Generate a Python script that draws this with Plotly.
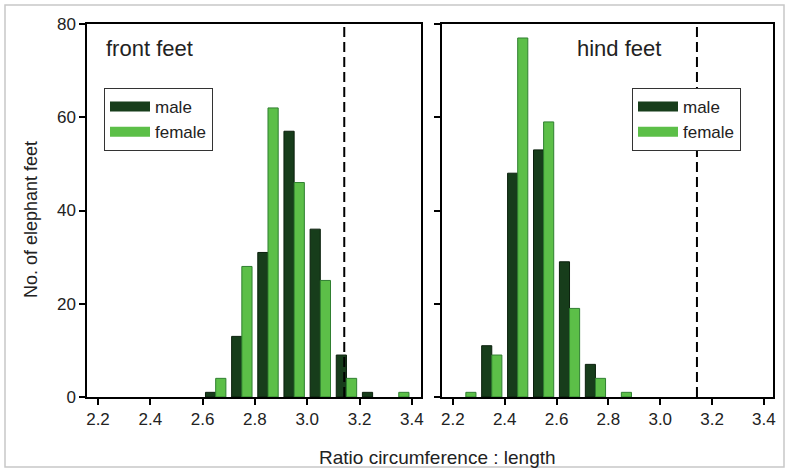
import plotly.graph_objects as go
import math

# ---- data ----
front_bins = [2.6, 2.7, 2.8, 2.9, 3.0, 3.1, 3.2, 3.3]
front_male = [1, 13, 31, 57, 36, 9, 1, 0]
front_female = [4, 28, 62, 46, 25, 4, 0, 1]

hind_bins = [2.2, 2.3, 2.4, 2.5, 2.6, 2.7, 2.8]
hind_male = [0, 11, 48, 53, 29, 7, 0]
hind_female = [1, 9, 77, 59, 19, 4, 1]

x_ticks = [2.2, 2.4, 2.6, 2.8, 3.0, 3.2, 3.4]
y_ticks = [0, 20, 40, 60, 80]
bin_width = 0.1
ref_line = math.pi

MALE = "#173d1b"
MALE_EDGE = "#0b200d"
FEMALE = "#5cbf48"
FEMALE_EDGE = "#2f7f30"
FONT = "Liberation Sans, Arial, sans-serif"
TXT = "#222222"

fc = [b + bin_width / 2 for b in front_bins]
hc = [b + bin_width / 2 for b in hind_bins]


def edge_widths(vals):
    return [1 if v > 0 else 0 for v in vals]


fig = go.Figure()
fig.add_trace(go.Bar(x=fc, y=front_male,
                     marker=dict(color=MALE, line=dict(color=MALE_EDGE, width=edge_widths(front_male))),
                     offsetgroup="m", xaxis="x", yaxis="y", showlegend=False, name="male"))
fig.add_trace(go.Bar(x=fc, y=front_female,
                     marker=dict(color=FEMALE, line=dict(color=FEMALE_EDGE, width=edge_widths(front_female))),
                     offsetgroup="f", xaxis="x", yaxis="y", showlegend=False, name="female"))
fig.add_trace(go.Bar(x=hc, y=hind_male,
                     marker=dict(color=MALE, line=dict(color=MALE_EDGE, width=edge_widths(hind_male))),
                     offsetgroup="m", xaxis="x2", yaxis="y2", showlegend=False, name="male"))
fig.add_trace(go.Bar(x=hc, y=hind_female,
                     marker=dict(color=FEMALE, line=dict(color=FEMALE_EDGE, width=edge_widths(hind_female))),
                     offsetgroup="f", xaxis="x2", yaxis="y2", showlegend=False, name="female"))

# legend entries (thick line swatches)
for lg, xa, ya in [("legend", "x", "y"), ("legend2", "x2", "y2")]:
    fig.add_trace(go.Scatter(x=[None], y=[None], mode="lines", name="male",
                             line=dict(color=MALE, width=10), legend=lg, xaxis=xa, yaxis=ya))
    fig.add_trace(go.Scatter(x=[None], y=[None], mode="lines", name="female",
                             line=dict(color=FEMALE, width=10), legend=lg, xaxis=xa, yaxis=ya))

xr = [2.158, 3.435]
common_x = dict(range=xr, tickvals=x_ticks, ticktext=[f"{v:.1f}" for v in x_ticks],
                showline=True, mirror=True, linecolor="black", linewidth=1.5,
                ticks="outside", ticklen=6, tickwidth=1.5, tickcolor="black",
                showgrid=False, zeroline=False,
                tickfont=dict(family=FONT, size=17, color=TXT))
common_y = dict(range=[0, 80], tickvals=y_ticks,
                showline=True, mirror=True, linecolor="black", linewidth=1.5,
                ticks="outside", ticklen=6, tickwidth=1.5, tickcolor="black",
                showgrid=False, zeroline=False,
                tickfont=dict(family=FONT, size=17, color=TXT))

W, H = 789, 472
L, R, T, B = 87, 16, 24, 75
pw = W - L - R
ph = H - T - B


def px(xpix):
    return (xpix - L) / pw


def py(ypix):
    return (H - B - ypix) / ph


legend_common = dict(bgcolor="white", bordercolor="#333333", borderwidth=1,
                     font=dict(family=FONT, size=17, color=TXT),
                     xanchor="left", yanchor="top", tracegroupgap=0, itemwidth=40)

fig.update_layout(
    width=W, height=H,
    margin=dict(l=L, r=R, t=T, b=B),
    plot_bgcolor="white", paper_bgcolor="white",
    barmode="group", bargap=0.22, bargroupgap=0,
    xaxis=dict(domain=[0, px(421)], anchor="y", **common_x),
    yaxis=dict(domain=[0, 1], anchor="x", **common_y),
    xaxis2=dict(domain=[px(442), 1], anchor="y2", **common_x),
    yaxis2=dict(domain=[0, 1], anchor="x2", showticklabels=False, **common_y),
    legend=dict(x=px(104), y=py(88), **legend_common),
    legend2=dict(x=px(632), y=py(88), **legend_common),
    shapes=[
        dict(type="line", xref="x", yref="y", x0=ref_line, x1=ref_line, y0=0, y1=80,
             line=dict(color="black", width=2, dash="10px,5px")),
        dict(type="line", xref="x2", yref="y2", x0=ref_line, x1=ref_line, y0=0, y1=80,
             line=dict(color="black", width=2, dash="10px,5px")),
        dict(type="rect", xref="paper", yref="paper", x0=px(5), x1=px(784), y0=py(467), y1=py(5),
             line=dict(color="#c8c8c8", width=1.5), layer="below"),
    ],
    annotations=[
        dict(text="front feet", xref="paper", yref="paper", x=px(104), y=py(48),
             xanchor="left", yanchor="middle", showarrow=False,
             font=dict(family=FONT, size=22, color=TXT)),
        dict(text="hind feet", xref="paper", yref="paper", x=px(575), y=py(48),
             xanchor="left", yanchor="middle", showarrow=False,
             font=dict(family=FONT, size=22, color=TXT)),
        dict(text="Ratio circumference : length", xref="paper", yref="paper",
             x=px(437), y=py(457), xanchor="center", yanchor="middle", showarrow=False,
             font=dict(family=FONT, size=19, color=TXT)),
        dict(text="No. of elephant feet", xref="paper", yref="paper",
             x=px(31), y=py(220), xanchor="center", yanchor="middle", showarrow=False,
             textangle=-90, font=dict(family=FONT, size=18, color=TXT)),
    ],
)

fig.write_html("out.html", config={"displayModeBar": False},
               post_script="document.body.style.margin='0';document.body.style.overflow='hidden';")
